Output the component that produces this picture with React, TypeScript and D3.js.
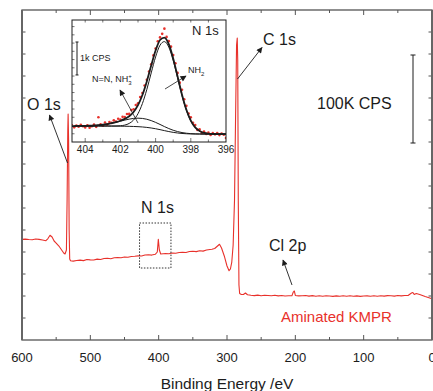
import React from 'react';
import * as d3 from 'd3';

// survey spectrum: [binding energy eV, counts in K CPS]
const survey: [number, number][] = [
  [600, 114.4], [595, 114.6], [590, 114.2], [585, 114.0], [580, 114.8], [575, 114.3], [570, 113.6],
  [565, 112.8], [562, 115.3], [559, 119.0], [556, 117.0], [553, 112.5], [550, 110.2], [546, 106.8],
  [542, 102.3], [539, 98.9], [537, 97.7], [535, 102.3], [534, 159.1], [533, 238.6], [532.5, 256.8],
  [531.8, 227.3], [531, 125], [530.2, 92], [529, 90.1], [525, 89.6], [520, 90.3], [515, 90.8],
  [510, 90.2], [505, 91.4], [500, 91.1], [495, 90.9], [490, 91.9], [485, 91.5], [480, 92.6],
  [475, 92.9], [470, 92.4], [465, 93.5], [460, 93.8], [455, 93.4], [450, 94.3], [445, 94.0],
  [440, 94.9], [435, 95.2], [430, 95.6], [425, 95.4], [420, 96.6], [415, 96.8], [410, 96.5],
  [405, 97.4], [402, 100], [400.5, 114.4], [399, 102.3], [397, 97.7], [390, 98.3], [385, 98.0],
  [380, 98.9], [375, 98.6], [370, 99.4], [365, 99.8], [360, 99.5], [355, 100.5], [350, 100.8],
  [345, 100.4], [340, 101.4], [335, 101.0], [330, 102.3], [325, 102.9], [322, 103.2], [318, 104],
  [313, 107.4], [311, 108.8], [308, 104.5], [304, 95.5], [300, 84.1], [297, 78.8], [295, 80.7],
  [293, 88.6], [291, 108], [289, 159.1], [287.5, 250], [286, 335.2], [285, 343.2], [284.3, 318.2],
  [283.5, 159.1], [282.5, 62.5], [281.5, 52.8], [279, 51.7], [276, 51.7], [273, 53.4], [270, 51.4],
  [265, 50.8], [260, 50.4], [255, 51.0], [250, 50.3], [245, 50.9], [240, 50.6], [235, 50.2],
  [230, 50.8], [225, 50.1], [220, 50.6], [215, 50.0], [210, 50.2], [205, 50.2], [203, 54.5],
  [201.5, 55.7], [200, 50.6], [195, 50.1], [190, 50.2], [185, 50.5], [180, 49.9], [175, 50.4],
  [170, 49.8], [165, 50.3], [160, 49.7], [155, 50.2], [150, 50], [145, 49.6], [140, 50.1],
  [135, 49.7], [130, 50.2], [125, 49.8], [120, 50.3], [115, 49.7], [110, 50.1], [105, 49.6],
  [100, 50], [95, 50.1], [90, 49.7], [85, 50.2], [80, 49.8], [75, 50.3], [70, 49.9], [65, 50.4],
  [60, 50.2], [55, 49.9], [50, 50.5], [45, 50.1], [40, 50.6], [35, 50.6], [30, 53.4], [28, 54],
  [26, 51.7], [23, 52.8], [18, 51.7], [10, 49.4], [0, 46.9],
];

// N 1s inset: fitted curves on a 0.25 eV grid (CPS)
const fitEnergy = [
  396, 396.25, 396.5, 396.75, 397, 397.25, 397.5, 397.75, 398, 398.25, 398.5, 398.75,
  399, 399.25, 399.5, 399.75, 400, 400.25, 400.5, 400.75, 401, 401.25, 401.5, 401.75,
  402, 402.25, 402.5, 402.75, 403, 403.25, 403.5, 403.75, 404, 404.25, 404.5, 404.75,
];
const fitBackground = [
  240, 240, 240, 240, 240, 240, 241, 242, 245, 250, 259, 273,
  292, 317, 345, 375, 402, 425, 443, 456, 465, 471, 475, 478,
  480, 482, 483, 484, 484, 485, 485, 485, 485, 485, 485, 485,
];
const fitNH2 = [
  0, 0, 1, 4, 13, 35, 88, 196, 394, 710, 1148, 1669,
  2179, 2560, 2700, 2560, 2179, 1669, 1148, 710, 394, 196, 88, 35,
  13, 4, 1, 0, 0, 0, 0, 0, 0, 0, 0, 0,
];
const fitNN = [
  0, 0, 0, 0, 1, 1, 3, 5, 9, 16, 27, 43,
  64, 91, 123, 158, 193, 224, 247, 259, 258, 244, 219, 187,
  151, 116, 85, 59, 39, 25, 15, 8, 4, 2, 1, 0,
];

// measured points
const dotEnergy = [
  396, 396.125, 396.25, 396.375, 396.5, 396.625, 396.75, 396.875, 397, 397.125, 397.25, 397.375,
  397.5, 397.625, 397.75, 397.875, 398, 398.125, 398.25, 398.375, 398.5, 398.625, 398.75, 398.875,
  399, 399.125, 399.25, 399.375, 399.5, 399.625, 399.75, 399.875, 400, 400.125, 400.25, 400.375,
  400.5, 400.625, 400.75, 400.875, 401, 401.125, 401.25, 401.375, 401.5, 401.625, 401.75, 401.875,
  402, 402.125, 402.25, 402.375, 402.5, 402.625, 402.75, 402.875, 403, 403.125, 403.25, 403.375,
  403.5, 403.625, 403.75, 403.875, 404, 404.125, 404.25, 404.375, 404.5, 404.625, 404.75,
];
const dotCps = [
  120, 220, 255, 210, 271, 232, 269, 214, 284, 245, 316, 274,
  382, 367, 513, 585, 748, 862, 1096, 1295, 1584, 1800, 2095, 2390,
  2635, 2892, 3058, 3188, 3438, 3280, 3173, 3054, 2834, 2626, 2358, 2138,
  1888, 1712, 1485, 1361, 1177, 1124, 991, 967, 852, 851, 760, 762,
  684, 703, 622, 656, 579, 606, 528, 593, 493, 537, 750, 460,
  530, 476, 433, 506, 439, 478, 522, 461, 496, 445, 505,
];

const mainTicks = [600, 500, 400, 300, 200, 100, 0];
const insetTicks = [404, 402, 400, 398, 396];

const RED = '#e8312b';
const INK = '#1c1c1c';
const FRAME = '#555';
const FONT = '"Liberation Sans", Arial, sans-serif';

const plot = { left: 22, right: 432, top: 10, bottom: 340 };
const ins = { left: 72, right: 226, top: 20, bottom: 142 };

export default function App() {
  const x = d3.scaleLinear().domain([600, 0]).range([plot.left, plot.right]);
  const y = d3.scaleLinear().domain([0, 375]).range([plot.bottom, plot.top]);
  const xi = d3.scaleLinear().domain([404.75, 396]).range([ins.left, ins.right]);
  const yi = d3.scaleLinear().domain([0, 3700]).range([ins.bottom, ins.top]);

  const surveyPath = d3.line<[number, number]>()
    .x(d => x(d[0]))
    .y(d => y(d[1]))(survey) || '';

  const fitPath = (vals: number[]) => d3.line<number>()
    .x((_, i) => xi(fitEnergy[i]))
    .y(v => yi(v))
    .curve(d3.curveMonotoneX)(vals) || '';

  const nh2 = fitBackground.map((b, i) => b + fitNH2[i]);
  const nn = fitBackground.map((b, i) => b + fitNN[i]);
  const envelope = fitBackground.map((b, i) => b + fitNH2[i] + fitNN[i]);

  const xMinor = d3.range(0, 601, 50);
  const yTicks = d3.range(25, 375, 25);
  const xiMinor = d3.range(397, 405, 1);
  const yiTicks = d3.range(250, 3700, 250);

  // scale bars
  const bar100k = y(0) - y(100);
  const bar1k = yi(0) - yi(1000);

  return (
    <svg width={433} height={391} style={{ position: 'absolute', left: 0, top: 0, background: '#fff' }}
      fontFamily={FONT}>
      <defs>
        <marker id="ah" viewBox="0 0 10 10" refX="9" refY="5" markerUnits="userSpaceOnUse"
          markerWidth="8" markerHeight="6" orient="auto">
          <path d="M0,0 L10,5 L0,10 z" fill={INK} />
        </marker>
        <clipPath id="insClip">
          <rect x={ins.left} y={ins.top} width={ins.right - ins.left} height={ins.bottom - ins.top} />
        </clipPath>
      </defs>

      {/* main frame ticks */}
      {xMinor.map(t => {
        const len = t % 100 === 0 ? 5 : 3;
        return (
          <g key={`xt${t}`} stroke={FRAME} strokeWidth={1}>
            <line x1={x(t)} x2={x(t)} y1={plot.bottom} y2={plot.bottom - len} />
            <line x1={x(t)} x2={x(t)} y1={plot.top} y2={plot.top + len} />
          </g>
        );
      })}
      {yTicks.map(t => (
        <g key={`yt${t}`} stroke={FRAME} strokeWidth={1}>
          <line x1={plot.left} x2={plot.left + 3.5} y1={y(t)} y2={y(t)} />
          <line x1={plot.right} x2={plot.right - 3.5} y1={y(t)} y2={y(t)} />
        </g>
      ))}

      {/* survey */}
      <path d={surveyPath} fill="none" stroke={RED} strokeWidth={1.1} strokeLinejoin="round" />

      <rect x={plot.left} y={plot.top} width={plot.right - plot.left} height={plot.bottom - plot.top}
        fill="none" stroke={FRAME} strokeWidth={1.3} />
      <line x1={plot.left} x2={plot.left} y1={plot.top} y2={plot.bottom} stroke="#666" strokeWidth={2} />
      <line x1={plot.right} x2={plot.right} y1={plot.top} y2={plot.bottom} stroke="#666" strokeWidth={2} />

      {mainTicks.map(t => (
        <text key={`xl${t}`} x={x(t)} y={362} textAnchor="middle" fontSize={13} fill={INK}>{t}</text>
      ))}
      <text x={(plot.left + plot.right) / 2} y={389} textAnchor="middle" fontSize={15.5} fill={INK}>
        Binding Energy /eV
      </text>

      {/* N 1s region box */}
      <rect x={x(428)} y={223} width={x(382) - x(428)} height={45} fill="none"
        stroke={INK} strokeWidth={0.9} strokeDasharray="1.5,1.5" />
      <text x={141} y={213} fontSize={16} fill={INK}>N 1s</text>

      {/* peak labels */}
      <text x={27} y={110} fontSize={16} fill={INK}>O 1s</text>
      <line x1={67.5} y1={163} x2={49.5} y2={115} stroke={INK} strokeWidth={0.9} markerEnd="url(#ah)" />

      <text x={263} y={45} fontSize={16} fill={INK}>C 1s</text>
      <line x1={237.5} y1={79} x2={262} y2={47.5} stroke={INK} strokeWidth={0.9} markerEnd="url(#ah)" />

      <text x={269} y={251} fontSize={16} fill={INK}>Cl 2p</text>
      <line x1={292} y1={285} x2={283} y2={260} stroke={INK} strokeWidth={0.9} markerEnd="url(#ah)" />

      <text x={317} y={109} fontSize={16} fill={INK}>100K CPS</text>
      <g stroke={INK} strokeWidth={1}>
        <line x1={413} x2={413} y1={55} y2={55 + bar100k} />
        <line x1={410.5} x2={415.5} y1={55} y2={55} />
        <line x1={410.5} x2={415.5} y1={55 + bar100k} y2={55 + bar100k} />
      </g>

      <text x={281} y={322} fontSize={15} fill={RED}>Aminated KMPR</text>

      {/* inset */}
      <rect x={ins.left} y={ins.top} width={ins.right - ins.left} height={ins.bottom - ins.top} fill="#fff" />
      <g clipPath="url(#insClip)">
        {dotEnergy.map((e, i) => (
          <circle key={`d${i}`} cx={xi(e)} cy={yi(dotCps[i])} r={1.3} fill={RED} />
        ))}
        <path d={fitPath(fitBackground)} fill="none" stroke={INK} strokeWidth={1} />
        <path d={fitPath(nn)} fill="none" stroke={INK} strokeWidth={1} />
        <path d={fitPath(nh2)} fill="none" stroke={INK} strokeWidth={1} />
        <path d={fitPath(envelope)} fill="none" stroke={INK} strokeWidth={1.8} />
      </g>
      {xiMinor.map(t => {
        const len = t % 2 === 0 ? 4 : 2.5;
        return (
          <g key={`xit${t}`} stroke={FRAME} strokeWidth={0.8}>
            <line x1={xi(t)} x2={xi(t)} y1={ins.bottom} y2={ins.bottom - len} />
            <line x1={xi(t)} x2={xi(t)} y1={ins.top} y2={ins.top + 2.5} />
          </g>
        );
      })}
      {yiTicks.map(t => (
        <line key={`yit${t}`} x1={ins.left} x2={ins.left + 2.5} y1={yi(t)} y2={yi(t)} stroke={FRAME} strokeWidth={0.8} />
      ))}
      <rect x={ins.left} y={ins.top} width={ins.right - ins.left} height={ins.bottom - ins.top}
        fill="none" stroke={INK} strokeWidth={1} />
      {insetTicks.map(t => (
        <text key={`xil${t}`} x={xi(t)} y={153} textAnchor="middle" fontSize={10} fill={INK}>{t}</text>
      ))}

      <text x={192} y={35} fontSize={13} fill={INK}>N 1s</text>

      <g stroke={INK} strokeWidth={1}>
        <line x1={77} x2={77} y1={42} y2={42 + bar1k} />
        <line x1={75.5} x2={78.5} y1={42} y2={42} />
        <line x1={75.5} x2={78.5} y1={42 + bar1k} y2={42 + bar1k} />
      </g>
      <text x={80} y={61} fontSize={9} fill={INK}>1k CPS</text>

      <text x={92} y={82} fontSize={9} fill={INK}>
        N=N, NH<tspan fontSize={6} dy={2.5}>3</tspan><tspan fontSize={6} dx={-3.4} dy={-6.5}>+</tspan>
      </text>
      <line x1={138} y1={123} x2={120} y2={90} stroke={INK} strokeWidth={0.8} markerEnd="url(#ah)" />

      <text x={188} y={73} fontSize={9} fill={INK}>
        NH<tspan fontSize={6} dy={2.5}>2</tspan>
      </text>
      <line x1={165} y1={89} x2={186} y2={76} stroke={INK} strokeWidth={0.8} markerEnd="url(#ah)" />
    </svg>
  );
}
